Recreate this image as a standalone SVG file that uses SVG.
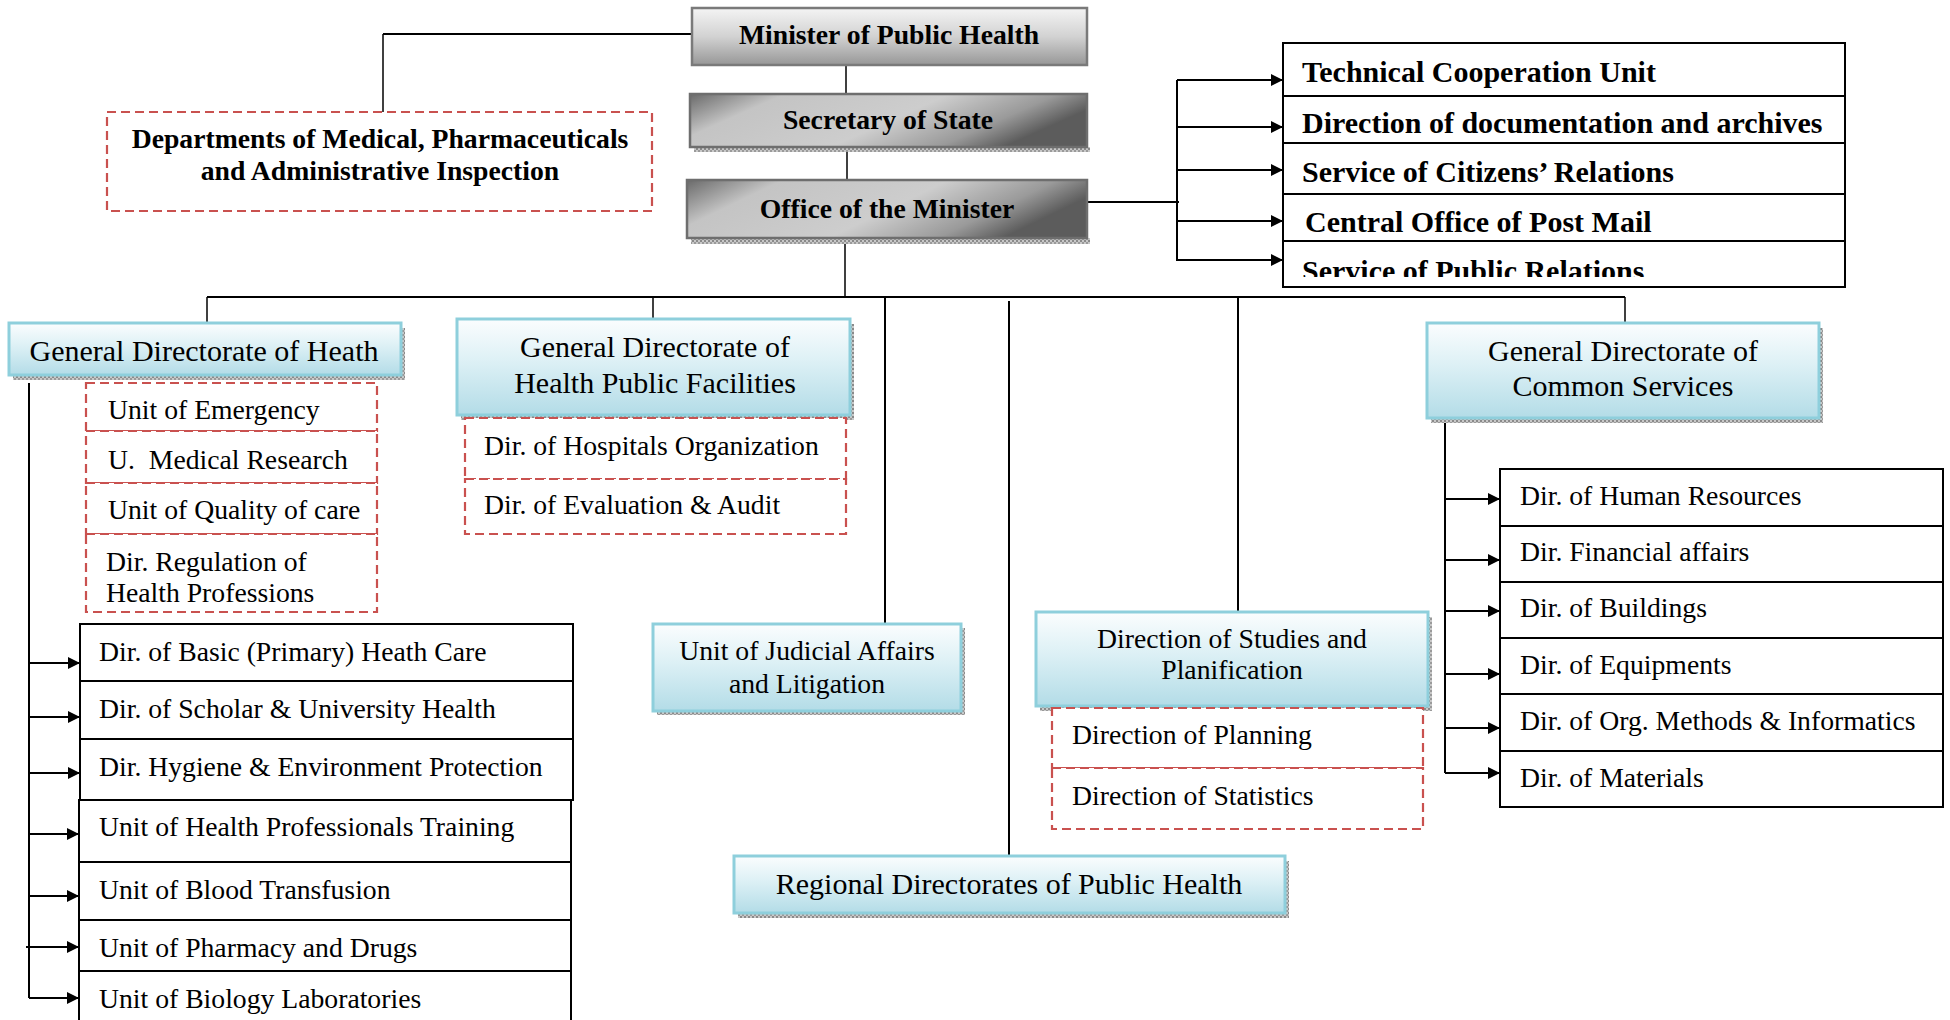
<svg xmlns="http://www.w3.org/2000/svg" width="1950" height="1020" viewBox="0 0 1950 1020">
  <style>
    .t { font-family: "Liberation Serif", "Times New Roman", serif; fill: #000; }
    .b { font-weight: bold; }
    .s27 { font-size: 27.7px; }
    .s30 { font-size: 30px; }
    .mid { text-anchor: middle; }
    .line { stroke: #000; stroke-width: 2; fill: none; }
    .thin { stroke: #000; stroke-width: 1.5; fill: none; }
    .arrow { stroke: #000; stroke-width: 2; fill: none; marker-end: url(#head); }
    .dash { fill: #fff; stroke: #c9514f; stroke-width: 2.2; stroke-dasharray: 9 5; }
    .solid { fill: #fff; stroke: #000; stroke-width: 2; }
    .blue { fill: url(#blueGrad); stroke: #8ecfdc; stroke-width: 3; }
    .grayTop { fill: url(#grayV); stroke: #7a7a7a; stroke-width: 2.5; }
    .grayMid { fill: url(#grayH); stroke: #6e6e6e; stroke-width: 2.5; }
    .shade { fill: url(#hatch); }
  </style>
  <defs>
    <linearGradient id="blueGrad" x1="0" y1="0" x2="0" y2="1">
      <stop offset="0" stop-color="#fbfdfe"/>
      <stop offset="0.45" stop-color="#dcf0f5"/>
      <stop offset="1" stop-color="#b3dce7"/>
    </linearGradient>
    <linearGradient id="grayV" x1="0" y1="0" x2="0" y2="1">
      <stop offset="0" stop-color="#f4f4f4"/>
      <stop offset="0.5" stop-color="#d2d2d2"/>
      <stop offset="1" stop-color="#979797"/>
    </linearGradient>
    <linearGradient id="grayH" x1="0" y1="0" x2="1" y2="0.3">
      <stop offset="0" stop-color="#6a6a6a"/>
      <stop offset="0.22" stop-color="#c4c4c4"/>
      <stop offset="0.6" stop-color="#cdcdcd"/>
      <stop offset="0.85" stop-color="#9a9a9a"/>
      <stop offset="1" stop-color="#5c5c5c"/>
    </linearGradient>
    <pattern id="hatch" width="4" height="4" patternUnits="userSpaceOnUse">
      <rect width="4" height="4" fill="#c8c8c8"/>
      <rect width="2" height="2" fill="#8a8a8a"/>
      <rect x="2" y="2" width="2" height="2" fill="#9a9a9a"/>
    </pattern>
    <marker id="head" viewBox="0 0 12 12" refX="12" refY="6" markerWidth="12" markerHeight="12" markerUnits="userSpaceOnUse" orient="auto">
      <path d="M0,0 L12,6 L0,12 z" fill="#000"/>
    </marker>
    <clipPath id="lastRowClip">
      <rect x="1283" y="241" width="562" height="36"/>
    </clipPath>
  </defs>

  <!-- connectors -->
  <g id="connectors">
    <!-- minister to inspection departments -->
    <path class="line" d="M692,34 H383"/>
    <path class="thin" d="M383,34 V112"/>
    <!-- main spine -->
    <path class="thin" d="M846,65 V94"/>
    <path class="thin" d="M847,147 V180"/>
    <path class="thin" d="M845,238 V297"/>
    <!-- horizontal bus -->
    <path class="line" d="M207,297 H1625"/>
    <path class="thin" d="M207,297 V323"/>
    <path class="thin" d="M653,297 V319"/>
    <path class="line" d="M885,297 V624"/>
    <path class="line" d="M1009,301 V856"/>
    <path class="line" d="M1238,297 V612"/>
    <path class="thin" d="M1625,297 V323"/>
    <!-- office to attached services -->
    <path class="line" d="M1087,202 H1179"/>
    <path class="line" d="M1177,80 V261"/>
    <path class="arrow" d="M1177,80 H1283"/>
    <path class="arrow" d="M1177,127 H1283"/>
    <path class="arrow" d="M1177,170 H1283"/>
    <path class="arrow" d="M1177,221 H1283"/>
    <path class="arrow" d="M1177,260 H1283"/>
    <!-- general directorate of health to its directorates -->
    <path class="line" d="M29,383 V998"/>
    <path class="arrow" d="M29,663 H80"/>
    <path class="arrow" d="M29,717 H80"/>
    <path class="arrow" d="M29,773 H80"/>
    <path class="arrow" d="M29,834 H79"/>
    <path class="arrow" d="M29,896 H79"/>
    <path class="arrow" d="M26,947 H79"/>
    <path class="arrow" d="M29,998 H79"/>
    <!-- common services to its directorates -->
    <path class="line" d="M1445,423 V773"/>
    <path class="arrow" d="M1445,499 H1500"/>
    <path class="arrow" d="M1445,560 H1500"/>
    <path class="arrow" d="M1445,611 H1500"/>
    <path class="arrow" d="M1445,674 H1500"/>
    <path class="arrow" d="M1445,728 H1500"/>
    <path class="arrow" d="M1445,773 H1500"/>
  </g>

  <!-- top hierarchy -->
  <g id="minister">
    <rect class="grayTop" x="692" y="8" width="395" height="57"/>
    <text class="t b s27 mid" x="889" y="44">Minister of Public Health</text>
  </g>
  <g id="secretary">
    <rect class="shade" x="694" y="147" width="396" height="5"/>
    <rect class="grayMid" x="690" y="94" width="397" height="53"/>
    <text class="t b s27 mid" x="888" y="129">Secretary of State</text>
  </g>
  <g id="office">
    <rect class="shade" x="691" y="238" width="399" height="6"/>
    <rect class="grayMid" x="687" y="180" width="400" height="58"/>
    <text class="t b s27 mid" x="887" y="218">Office of the Minister</text>
  </g>
  <g id="inspection">
    <rect class="dash" x="107" y="112" width="545" height="99"/>
    <text class="t b s27 mid" x="380" y="148">Departments of Medical, Pharmaceuticals</text>
    <text class="t b s27 mid" x="380" y="180">and Administrative Inspection</text>
  </g>

  <!-- services attached to the office -->
  <g id="attached-services">
    <rect class="solid" x="1283" y="43" width="562" height="244"/>
    <path class="line" d="M1283,96 H1845 M1283,143 H1845 M1283,194 H1845 M1283,241 H1845"/>
    <text class="t b s30" x="1302" y="82">Technical Cooperation Unit</text>
    <text class="t b s30" x="1302" y="133">Direction of documentation and archives</text>
    <text class="t b s30" x="1302" y="182">Service of Citizens’ Relations</text>
    <text class="t b s30" x="1305" y="232">Central Office of Post Mail</text>
    <text class="t b s30" x="1302" y="281" clip-path="url(#lastRowClip)">Service of Public Relations</text>
  </g>

  <!-- general directorate of health -->
  <g id="gd-health">
    <rect class="shade" x="13" y="328" width="392" height="52"/>
    <rect class="blue" x="9" y="323" width="392" height="52"/>
    <text class="t s30 mid" x="204" y="361">General Directorate of Heath</text>
  </g>
  <g id="gd-health-units">
    <rect class="dash" x="86" y="383" width="291" height="48"/>
    <text class="t s27" x="108" y="419">Unit of Emergency</text>
    <rect class="dash" x="86" y="431" width="291" height="52"/>
    <text class="t s27" x="108" y="469">U.&#160; Medical Research</text>
    <rect class="dash" x="86" y="483" width="291" height="51"/>
    <text class="t s27" x="108" y="519">Unit of Quality of care</text>
    <rect class="dash" x="86" y="534" width="291" height="78"/>
    <text class="t s27" x="106" y="571">Dir. Regulation of</text>
    <text class="t s27" x="106" y="602">Health Professions</text>
  </g>
  <g id="gd-health-directorates">
    <rect class="solid" x="80" y="624" width="493" height="57"/>
    <text class="t s27" x="99" y="661">Dir. of Basic (Primary) Heath Care</text>
    <rect class="solid" x="80" y="681" width="493" height="58"/>
    <text class="t s27" x="99" y="718">Dir. of Scholar &amp; University Health</text>
    <rect class="solid" x="80" y="739" width="493" height="61"/>
    <text class="t s27" x="99" y="776">Dir. Hygiene &amp; Environment Protection</text>
    <rect class="solid" x="79" y="800" width="492" height="62"/>
    <text class="t s27" x="99" y="836">Unit of Health Professionals Training</text>
    <rect class="solid" x="79" y="862" width="492" height="58"/>
    <text class="t s27" x="99" y="899">Unit of Blood Transfusion</text>
    <rect class="solid" x="79" y="920" width="492" height="51"/>
    <text class="t s27" x="99" y="957">Unit of Pharmacy and Drugs</text>
    <rect class="solid" x="79" y="971" width="492" height="60"/>
    <text class="t s27" x="99" y="1008">Unit of Biology Laboratories</text>
  </g>

  <!-- general directorate of health public facilities -->
  <g id="gd-facilities">
    <rect class="shade" x="461" y="324" width="393" height="96"/>
    <rect class="blue" x="457" y="319" width="393" height="96"/>
    <text class="t s30 mid" x="655" y="357">General Directorate of</text>
    <text class="t s30 mid" x="655" y="393">Health Public Facilities</text>
  </g>
  <g id="gd-facilities-units">
    <rect class="dash" x="465" y="418" width="381" height="61"/>
    <text class="t s27" x="484" y="455">Dir. of Hospitals Organization</text>
    <rect class="dash" x="465" y="479" width="381" height="55"/>
    <text class="t s27" x="484" y="514">Dir. of Evaluation &amp; Audit</text>
  </g>

  <!-- judicial unit -->
  <g id="judicial">
    <rect class="shade" x="657" y="628" width="308" height="87"/>
    <rect class="blue" x="653" y="624" width="308" height="87"/>
    <text class="t s27 mid" x="807" y="660">Unit of Judicial Affairs</text>
    <text class="t s27 mid" x="807" y="693">and Litigation</text>
  </g>

  <!-- regional directorates -->
  <g id="regional">
    <rect class="shade" x="738" y="861" width="551" height="57"/>
    <rect class="blue" x="734" y="856" width="551" height="57"/>
    <text class="t s30 mid" x="1009" y="894">Regional Directorates of Public Health</text>
  </g>

  <!-- studies and planification -->
  <g id="studies">
    <rect class="shade" x="1040" y="617" width="392" height="94"/>
    <rect class="blue" x="1036" y="612" width="392" height="94"/>
    <text class="t s27 mid" x="1232" y="648">Direction of Studies and</text>
    <text class="t s27 mid" x="1232" y="679">Planification</text>
  </g>
  <g id="studies-units">
    <rect class="dash" x="1052" y="708" width="371" height="60"/>
    <text class="t s27" x="1072" y="744">Direction of Planning</text>
    <rect class="dash" x="1052" y="768" width="371" height="61"/>
    <text class="t s27" x="1072" y="805">Direction of Statistics</text>
  </g>

  <!-- general directorate of common services -->
  <g id="gd-common">
    <rect class="shade" x="1431" y="328" width="392" height="95"/>
    <rect class="blue" x="1427" y="323" width="392" height="95"/>
    <text class="t s30 mid" x="1623" y="361">General Directorate of</text>
    <text class="t s30 mid" x="1623" y="396">Common Services</text>
  </g>
  <g id="gd-common-directorates">
    <rect class="solid" x="1500" y="469" width="443" height="57"/>
    <text class="t s27" x="1520" y="505">Dir. of Human Resources</text>
    <rect class="solid" x="1500" y="526" width="443" height="56"/>
    <text class="t s27" x="1520" y="561">Dir. Financial affairs</text>
    <rect class="solid" x="1500" y="582" width="443" height="56"/>
    <text class="t s27" x="1520" y="617">Dir. of Buildings</text>
    <rect class="solid" x="1500" y="638" width="443" height="56"/>
    <text class="t s27" x="1520" y="674">Dir. of Equipments</text>
    <rect class="solid" x="1500" y="694" width="443" height="57"/>
    <text class="t s27" x="1520" y="730">Dir. of Org. Methods &amp; Informatics</text>
    <rect class="solid" x="1500" y="751" width="443" height="56"/>
    <text class="t s27" x="1520" y="787">Dir. of Materials</text>
  </g>
</svg>
